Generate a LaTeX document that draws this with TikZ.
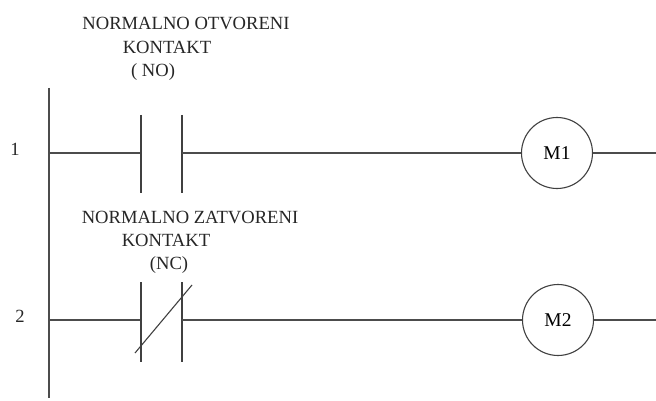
\documentclass[tikz,border=0pt]{standalone}
\usepackage{fontspec}
\setmainfont{Liberation Serif}
\begin{document}
\begin{tikzpicture}[x=1pt,y=-1pt,
  wire/.style={line width=1.6pt,draw=black!70},
  plate/.style={line width=1.6pt,draw=black!75},
  coil/.style={circle,draw=black!75,line width=1.1pt,minimum size=71pt,inner sep=0pt,font=\fontsize{19.5}{21}\selectfont},
  lbl/.style={font=\fontsize{18.6}{20}\selectfont,inner sep=0pt,text=black!85}]
\useasboundingbox (0,0) rectangle (656,401);
% labels
\node[lbl] (t1a) at (186,23) {NORMALNO OTVORENI};
\node[lbl] (t1b) at (167,47) {KONTAKT};
\node[lbl] (t1c) at (153,72) {( NO)};
\node[lbl] (t2a) at (190,217) {NORMALNO ZATVORENI};
\node[lbl] (t2b) at (166,240) {KONTAKT};
\node[lbl] (t2c) at (169,265) {(NC)};
\node[lbl] (n1) at (15,149) {1};
\node[lbl] (n2) at (20,316) {2};
% rail
\coordinate (railtop) at (49,88);
\coordinate (railbot) at (49,398);
\draw[wire] (railtop) -- (railbot);
% rung 1
\coordinate (r1) at (49,153);
\coordinate (c1l) at (141,153);
\coordinate (c1r) at (182,153);
\coordinate (e1) at (656,153);
\node[coil] (M1) at (557,153) {M1};
\draw[wire] (r1) -- (c1l);
\draw[plate] (141,115) -- (141,193);
\draw[plate] (182,115) -- (182,193);
\draw[wire] (c1r) -- (M1.west);
\draw[wire] (M1.east) -- (e1);
% rung 2
\coordinate (r2) at (49,320);
\coordinate (c2l) at (141,320);
\coordinate (c2r) at (182,320);
\coordinate (e2) at (656,320);
\node[coil] (M2) at (558,320) {M2};
\draw[wire] (r2) -- (c2l);
\draw[plate] (141,282) -- (141,362);
\draw[plate] (182,282) -- (182,362);
\draw[line width=1.1pt,draw=black!75] (135,353) -- (192,285);
\draw[wire] (c2r) -- (M2.west);
\draw[wire] (M2.east) -- (e2);
\end{tikzpicture}
\end{document}
